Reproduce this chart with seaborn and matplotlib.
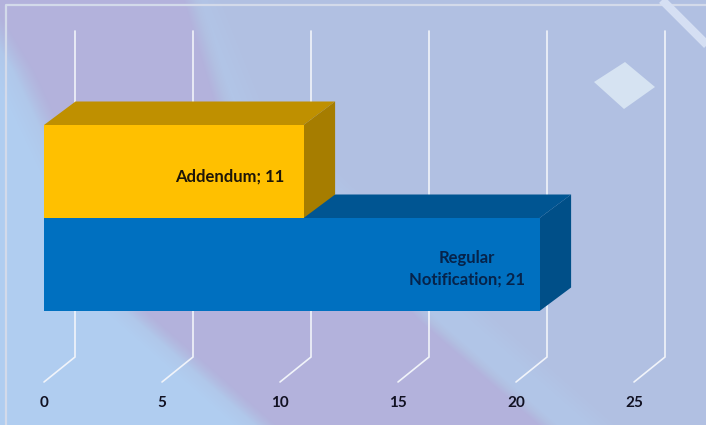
import numpy as np
import pandas as pd
import matplotlib
matplotlib.use("Agg")
import matplotlib.pyplot as plt
from matplotlib.patches import Polygon
import seaborn as sns

categories = ["Addendum", "Regular Notification"]
values = [11, 21]
point_labels = ["Addendum; 11", "Regular\nNotification; 21"]
ticks = [0, 5, 10, 15, 20, 25]
face_colors = ["#FFC000", "#0070C0"]
top_colors = ["#BF9000", "#005592"]
side_colors = ["#A67D00", "#004F88"]

W, H = 706, 425
FLOOR = 382
sns.set_theme(style="white")
plt.rcParams["font.family"] = ["Lato", "DejaVu Sans"]

fig = plt.figure(figsize=(W / 100, H / 100), dpi=100)

# background wallpaper
bg = fig.add_axes([0, 0, 1, 1], zorder=0)
yy, xx = np.mgrid[0:H, 0:W]
base = np.array([177, 192, 226.0])
purple = np.array([179, 178, 220.0])
light = np.array([176, 205, 240.0])
left_edge = np.interp(yy, [0, 70, 312, 425], [-30, 12, 126, 255])
right_edge = np.interp(yy, [0, 100, 320, 425], [195, 225, 430, 550])
light_right = np.interp(yy, [0, 100, 320, 425], [225, 265, 500, 620])
inside = np.clip((xx - left_edge) / 22, 0, 1) * np.clip((right_edge - xx) / 12, 0, 1)
img = base + (light - base)[None, None, :] * (np.clip((left_edge + 30 - xx) / 50, 0, 1))[..., None]
img = img + (purple - img) * inside[..., None]
band = np.clip((xx - right_edge) / 8, 0, 1) * np.clip((light_right - xx) / 30, 0, 1)
img = img + (np.array([177, 197, 231.0]) - img) * band[..., None]
bg.imshow(img / 255, extent=(0, W, H, 0), aspect="auto", interpolation="bilinear")
bg.set_xlim(0, W)
bg.set_ylim(H, 0)
bg.axis("off")
bg.plot([6, 6, W], [H, 5, 5], color="#D3DAEA", lw=1.6)
bg.plot([662, 722], [0, 60], color="#D5DFF3", lw=6, solid_capstyle="butt")
bg.add_patch(Polygon([(625, 62), (655, 87), (624, 109), (594, 82)], closed=True, fc="#D6E3F2", ec="none"))

# chart
ax = fig.add_axes([0, 1 - FLOOR / H, 1, FLOOR / H], zorder=1)
ax.patch.set_alpha(0)
PX_X = 23.6
PX_Y = 93.0
df = pd.DataFrame({"category": categories, "value": values})
sns.barplot(data=df, y="category", x="value", hue="category", palette=face_colors,
            order=categories, hue_order=categories, width=1.0, dodge=False,
            legend=False, saturation=1, linewidth=0, ax=ax, zorder=5)
ax.set_xlim(-44 / PX_X, (W - 44) / PX_X)
ax.set_ylim((FLOOR - 171.5) / PX_Y, -171.5 / PX_Y)
sns.despine(ax=ax, left=True, bottom=True)
ax.set_xlabel("")
ax.set_ylabel("")
ax.set_yticks([])
ax.set_xticks(ticks)
ax.set_xticklabels([str(t) for t in ticks], fontsize=11, fontweight="bold", color="#111122")
ax.tick_params(axis="x", length=0, pad=10)

dx = 31.5 / PX_X
dy = 23.5 / PX_Y
for i, v in enumerate(values):
    t, b = i - 0.5, i + 0.5
    ax.add_patch(Polygon([(0, t), (dx, t - dy), (v + dx, t - dy), (v, t)], closed=True,
                         fc=top_colors[i], ec="none", zorder=3 if i else 4))
    ax.add_patch(Polygon([(v, t), (v + dx, t - dy), (v + dx, b - dy), (v, b)], closed=True,
                         fc=side_colors[i], ec="none", zorder=4))

g_dx = 31.0 / PX_X
g_top = -171.5 / PX_Y + 31 / PX_Y
g_back = (357 - 171.5) / PX_Y
g_front = (FLOOR - 171.5) / PX_Y
for t in ticks:
    ax.plot([t + g_dx, t + g_dx, t], [g_top, g_back, g_front], color="#F1F4FA",
            lw=1.2, zorder=2, clip_on=False, solid_joinstyle="miter")

text_x = [10.17, 17.92]
text_y = [0.055, 1.045]
text_colors = ["#1E1608", "#06234A"]
aligns = ["right", "center"]
for lab, tx, ty, col, al in zip(point_labels, text_x, text_y, text_colors, aligns):
    ax.text(tx, ty, lab, ha=al, va="center", multialignment="center",
            fontsize=12, fontweight="bold", color=col, zorder=7, linespacing=1.38)

fig.savefig("out.png", dpi=100)
